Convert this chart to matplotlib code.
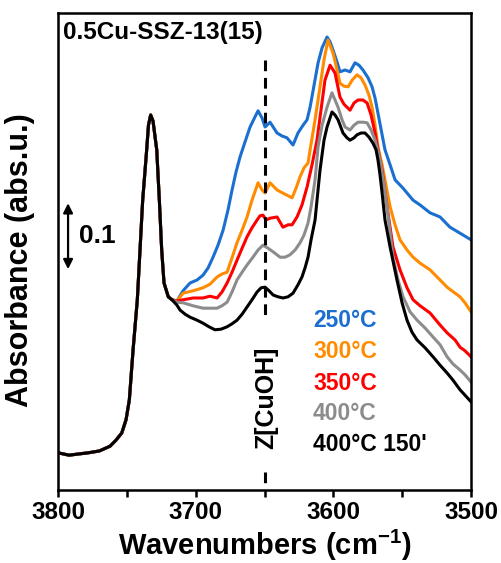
import numpy as np
import matplotlib.pyplot as plt
from matplotlib.ticker import MultipleLocator

plt.rcParams['font.family'] = ['Liberation Sans', 'DejaVu Sans']
plt.rcParams['font.weight'] = 'bold'
plt.rcParams['axes.labelweight'] = 'bold'
plt.rcParams['mathtext.fontset'] = 'custom'
plt.rcParams['mathtext.rm'] = 'Liberation Sans:bold'
plt.rcParams['mathtext.default'] = 'rm'

# common part of all spectra (the 3732 band)
w_common = [3800, 3792, 3785, 3778, 3770, 3762.2, 3757.9, 3753.7, 3750.6, 3748.2, 3745.5,
            3742.4, 3738.5, 3735.6, 3734.3, 3732.7, 3731.0, 3728.3, 3726.4, 3724.7, 3723.0,
            3719.9, 3717.2]
a_common = [0.062, 0.058, 0.060, 0.062, 0.065, 0.073, 0.083, 0.095, 0.117, 0.150, 0.233,
            0.317, 0.483, 0.567, 0.608, 0.625, 0.615, 0.567, 0.483, 0.400, 0.345,
            0.322, 0.317]

w_250 = [3713.6, 3709.2, 3704.1, 3699.0, 3694.7, 3691.0, 3687.4, 3683.8, 3680.1, 3676.5, 3673.6,
         3670.7, 3667.8, 3664.2, 3660.5, 3656.9, 3654.7, 3651.8, 3649.6, 3646.0, 3640.9, 3637.3,
         3633.7, 3629.3, 3625.7, 3622.0, 3619.1, 3616.9, 3614.0, 3611.1, 3608.2, 3604.6, 3602.4,
         3600.2, 3597.3, 3595.2, 3591.5, 3587.9, 3584.3, 3581.4, 3578.5, 3574.8, 3571.9, 3569.7,
         3567.6, 3564.6, 3562.5, 3558.8, 3555.2, 3549.4, 3542.1, 3537.0, 3529.8, 3522.5, 3515.3,
         3508.0, 3500]
a_250 = [0.315, 0.332, 0.345, 0.350, 0.358, 0.370, 0.388, 0.408, 0.433, 0.467, 0.500,
         0.530, 0.555, 0.580, 0.605, 0.622, 0.632, 0.620, 0.605, 0.613, 0.595, 0.590,
         0.587, 0.575, 0.595, 0.608, 0.617, 0.638, 0.675, 0.712, 0.737, 0.755, 0.747,
         0.733, 0.713, 0.697, 0.700, 0.697, 0.712, 0.708, 0.700, 0.687, 0.672, 0.653,
         0.628, 0.592, 0.567, 0.542, 0.517, 0.503, 0.483, 0.475, 0.462, 0.455, 0.438,
         0.428, 0.417]

w_300 = [3713.6, 3709.2, 3701.9, 3694.7, 3689.6, 3684.5, 3680.9, 3677.2, 3673.6, 3670.0, 3666.3,
         3662.7, 3659.1, 3654.7, 3651.8, 3649.6, 3646.0, 3640.9, 3635.1, 3630.0, 3627.1, 3624.2,
         3621.3, 3618.4, 3616.9, 3613.3, 3609.7, 3606.8, 3603.9, 3600.2, 3597.3, 3595.2, 3592.3,
         3589.3, 3586.4, 3582.8, 3579.9, 3577.0, 3574.1, 3571.9, 3569.7, 3567.6, 3564.6, 3562.5,
         3558.8, 3555.2, 3551.6, 3546.5, 3542.1, 3537.0, 3529.8, 3522.5, 3517.4, 3511.6, 3508.0,
         3504.4, 3500]
a_300 = [0.315, 0.328, 0.332, 0.337, 0.343, 0.355, 0.360, 0.363, 0.387, 0.412, 0.433,
         0.455, 0.483, 0.512, 0.500, 0.495, 0.512, 0.500, 0.493, 0.487, 0.503, 0.522,
         0.537, 0.545, 0.567, 0.617, 0.672, 0.717, 0.750, 0.728, 0.700, 0.678, 0.673,
         0.672, 0.683, 0.692, 0.687, 0.675, 0.658, 0.638, 0.608, 0.572, 0.542, 0.517,
         0.472, 0.442, 0.417, 0.400, 0.388, 0.378, 0.367, 0.350, 0.338, 0.328, 0.322,
         0.312, 0.297]

w_350 = [3713.6, 3709.2, 3701.9, 3694.7, 3689.6, 3684.5, 3680.9, 3677.2, 3673.6, 3670.0, 3666.3,
         3662.7, 3659.1, 3655.4, 3653.3, 3651.1, 3648.9, 3646.0, 3640.9, 3636.6, 3632.9, 3630.0,
         3626.4, 3622.8, 3619.1, 3615.5, 3611.9, 3609.0, 3606.1, 3602.4, 3598.8, 3595.2, 3592.3,
         3590.1, 3587.9, 3585.0, 3582.1, 3578.5, 3575.5, 3572.6, 3569.7, 3567.6, 3564.6, 3561.0,
         3556.7, 3551.6, 3546.5, 3542.1, 3537.0, 3529.8, 3522.5, 3517.4, 3511.6, 3508.0, 3504.4,
         3500]
a_350 = [0.315, 0.317, 0.320, 0.320, 0.323, 0.320, 0.330, 0.345, 0.363, 0.383, 0.403,
         0.422, 0.437, 0.450, 0.457, 0.458, 0.450, 0.453, 0.455, 0.438, 0.442, 0.442,
         0.455, 0.475, 0.505, 0.542, 0.583, 0.633, 0.683, 0.708, 0.695, 0.655, 0.643,
         0.638, 0.633, 0.645, 0.650, 0.650, 0.645, 0.625, 0.595, 0.567, 0.533, 0.472,
         0.405, 0.367, 0.337, 0.317, 0.307, 0.295, 0.275, 0.262, 0.250, 0.238, 0.232,
         0.222]

w_400 = [3713.6, 3709.2, 3701.9, 3694.7, 3684.5, 3680.9, 3677.2, 3673.6, 3670.0, 3666.3, 3662.7,
         3658.4, 3654.7, 3651.1, 3647.5, 3643.8, 3638.7, 3635.1, 3631.5, 3627.8, 3624.2, 3621.3,
         3618.4, 3616.2, 3613.3, 3611.1, 3608.2, 3604.6, 3601.0, 3598.8, 3596.6, 3593.7, 3591.5,
         3587.9, 3585.0, 3582.1, 3578.5, 3575.5, 3572.6, 3569.7, 3566.1, 3563.2, 3561.0, 3556.7,
         3553.0, 3549.4, 3544.3, 3539.2, 3533.4, 3527.6, 3522.5, 3517.4, 3513.1, 3508.0, 3504.4,
         3500]
a_400 = [0.313, 0.312, 0.307, 0.303, 0.303, 0.307, 0.313, 0.330, 0.350, 0.363, 0.375,
         0.388, 0.400, 0.408, 0.403, 0.397, 0.388, 0.388, 0.392, 0.400, 0.412, 0.425,
         0.445, 0.472, 0.517, 0.572, 0.608, 0.638, 0.662, 0.650, 0.638, 0.617, 0.605,
         0.600, 0.608, 0.613, 0.613, 0.612, 0.600, 0.583, 0.550, 0.508, 0.472, 0.388,
         0.350, 0.322, 0.297, 0.283, 0.270, 0.255, 0.242, 0.222, 0.210, 0.200, 0.192,
         0.180]

w_400_150 = [3713.6, 3711.4, 3707.7, 3704.1, 3699.0, 3694.7, 3690.3, 3686.0, 3681.6, 3677.2,
             3673.6, 3670.0, 3666.3, 3662.7, 3659.1, 3655.4, 3652.5, 3649.6, 3646.7, 3643.8,
             3640.2, 3636.6, 3632.9, 3629.3, 3625.7, 3622.8, 3620.6, 3618.4, 3616.2, 3613.3,
             3609.7, 3606.8, 3604.6, 3601.0, 3598.8, 3596.6, 3593.0, 3590.1, 3587.9, 3585.0,
             3582.8, 3579.9, 3577.0, 3574.1, 3571.2, 3569.0, 3567.6, 3566.1, 3564.6, 3562.5,
             3558.8, 3553.8, 3550.1, 3546.5, 3542.9, 3539.2, 3533.4, 3527.6, 3522.5, 3517.4,
             3513.1, 3508.0, 3504.4, 3500]
a_400_150 = [0.308, 0.300, 0.293, 0.288, 0.283, 0.278, 0.272, 0.267, 0.268, 0.272,
             0.277, 0.283, 0.293, 0.305, 0.317, 0.330, 0.337, 0.338, 0.332, 0.325,
             0.322, 0.320, 0.322, 0.328, 0.342, 0.355, 0.370, 0.388, 0.417, 0.450,
             0.533, 0.583, 0.605, 0.630, 0.625, 0.617, 0.595, 0.587, 0.583, 0.587,
             0.592, 0.595, 0.595, 0.588, 0.578, 0.567, 0.550, 0.525, 0.495, 0.450,
             0.405, 0.350, 0.312, 0.283, 0.263, 0.250, 0.237, 0.222, 0.208, 0.195,
             0.183, 0.167, 0.158, 0.147]

labels = ['250°C', '300°C', '350°C', '400°C', "400°C 150'"]
colors = ['#1a6fd1', '#ff8c00', '#ff0000', '#8c8c8c', '#000000']
series = [(w_250, a_250), (w_300, a_300), (w_350, a_350), (w_400, a_400), (w_400_150, a_400_150)]

fig = plt.figure(figsize=(5.01, 5.63), dpi=100)
ax = fig.add_axes([0.1158, 0.1297, 0.8244, 0.8472])

for (w, a), c in zip(series, colors):
    ax.plot(w_common + w, a_common + a, color=c, lw=2.2, solid_joinstyle='round')

# Z[CuOH] marker
ax.plot([3650, 3650], [0.717, 0.285], color='black', lw=2.2, ls=(0, (3.5, 2.2)))
ax.plot([3650, 3650], [0.03, 0.0], color='black', lw=2.2, ls=(0, (3.5, 2.2)))
ax.text(3649, 0.153, 'Z[CuOH]', rotation=90, ha='center', va='center', fontsize=18)

# scale bar
ax.annotate('', xy=(3792.7, 0.478), xytext=(3792.7, 0.368),
            arrowprops=dict(arrowstyle='<|-|>', color='black', lw=1.6,
                            mutation_scale=14, shrinkA=0, shrinkB=0))
ax.text(3784.5, 0.423, '0.1', ha='left', va='center', fontsize=19)

ax.text(3796.4, 0.762, '0.5Cu-SSZ-13(15)', ha='left', va='center', fontsize=17.5)

leg_y = [0.283, 0.230, 0.178, 0.128, 0.075]
for lab, c, y in zip(labels, colors, leg_y):
    ax.text(3614.8, y, lab, color=c, ha='left', va='center', fontsize=16.5)

ax.set_xlim(3800, 3500)
ax.set_ylim(0, 0.795)
ax.xaxis.set_major_locator(MultipleLocator(100))
ax.xaxis.set_minor_locator(MultipleLocator(50))
ax.set_yticks([])
ax.tick_params(axis='x', which='both', direction='out', length=5, width=1.8,
               labelsize=17.5, pad=3, top=False)
for s in ax.spines.values():
    s.set_linewidth(1.8)
ax.set_xlabel('Wavenumbers (cm$^{-1}$)', fontsize=21, labelpad=3)
ax.set_ylabel('Absorbance (abs.u.)', fontsize=22, va='center')
ax.yaxis.set_label_coords(-0.093, 0.482)

fig.savefig('out.png', dpi=100)
